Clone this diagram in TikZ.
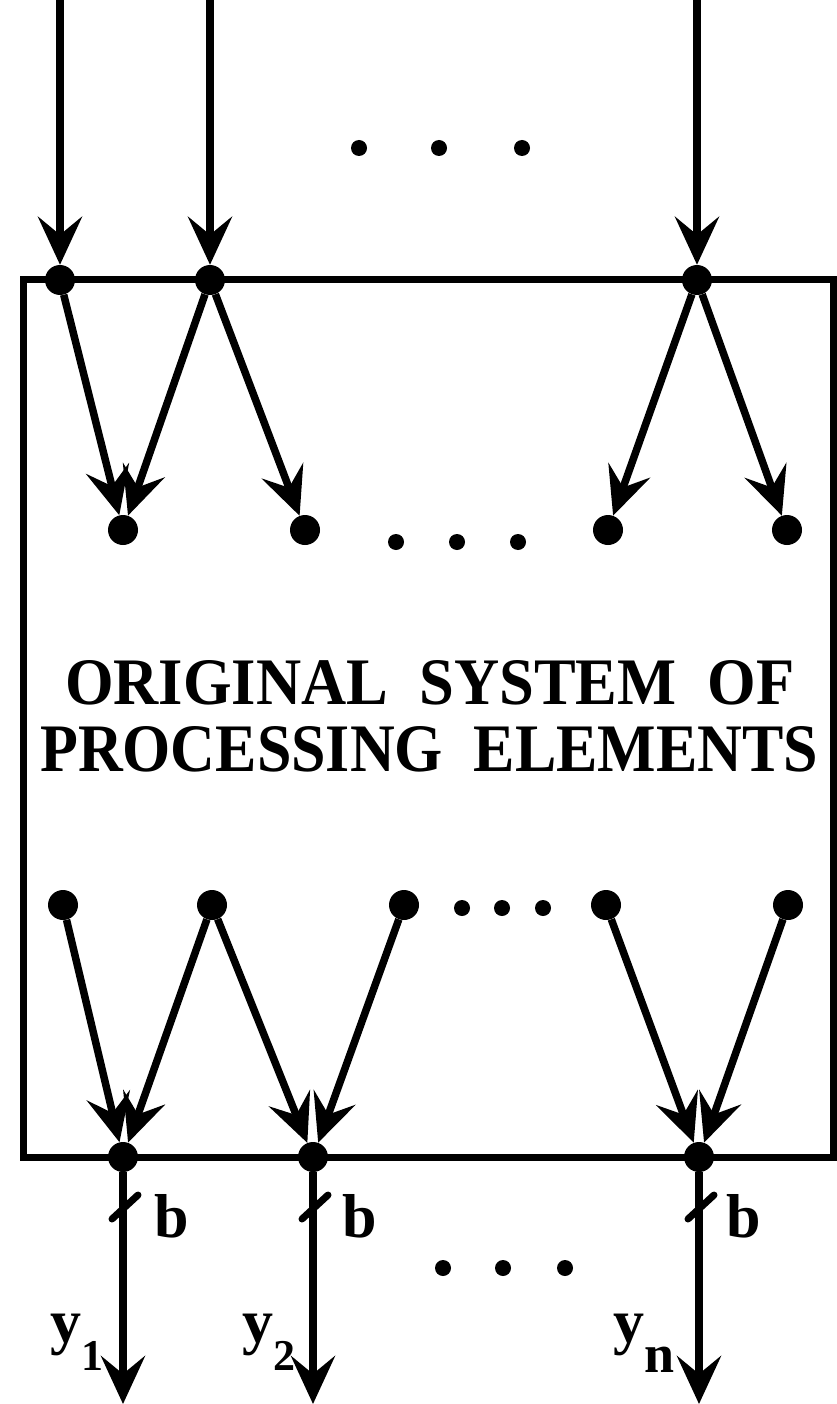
\documentclass[tikz,border=0pt]{standalone}
\usepackage{fontspec}
\setmainfont{Liberation Serif}
\usetikzlibrary{arrows.meta}
\tikzset{
  dot/.style={circle,fill=black,inner sep=0pt,minimum size=30pt},
  sdot/.style={circle,fill=black,inner sep=0pt,minimum size=16pt},
  arr/.style={line width=7.5pt,-{Stealth[length=48pt,width=44pt,inset=18pt]}},
  boxline/.style={line width=7pt},
  slashmark/.style={line width=7pt,line cap=round},
  lbl/.style={inner sep=0pt,font=\fontsize{62}{62}\selectfont\bfseries},
}
\newcommand{\subdig}[1]{\raisebox{-28pt}{\fontsize{44}{44}\selectfont\bfseries #1}}
\begin{document}
\begin{tikzpicture}[x=1pt,y=-1pt]
\useasboundingbox (0,0) rectangle (836,1404);
% box
\draw[boxline] (23,280) rectangle (833,1157);
% top dots on box edge
\node[dot] (t1) at (60,280) {};
\node[dot] (t2) at (210,280) {};
\node[dot] (t3) at (697,280) {};
% inputs
\coordinate (i1) at (60,0);
\coordinate (i2) at (210,0);
\coordinate (i3) at (697,0);
\draw[arr] (i1) -- (t1);
\draw[arr] (i2) -- (t2);
\draw[arr] (i3) -- (t3);
% top ellipsis
\node[sdot] (e1) at (359,148) {};
\node[sdot] (e2) at (439,148) {};
\node[sdot] (e3) at (522,148) {};
% upper internal nodes
\node[dot] (u1) at (123,530) {};
\node[dot] (u2) at (305,530) {};
\node[dot] (u3) at (608,530) {};
\node[dot] (u4) at (787,530) {};
\node[sdot] (m1) at (396,542) {};
\node[sdot] (m2) at (457,542) {};
\node[sdot] (m3) at (518,542) {};
\draw[arr] (t1) -- (u1);
\draw[arr] (t2) -- (u1);
\draw[arr] (t2) -- (u2);
\draw[arr] (t3) -- (u3);
\draw[arr] (t3) -- (u4);
% text
\node[inner sep=0pt,anchor=base west] (l1) at (65,704) {\resizebox{729pt}{44pt}{\bfseries ORIGINAL\ \ SYSTEM\ \ OF}};
\node[inner sep=0pt,anchor=base west] (l2) at (40,771) {\resizebox{778pt}{45pt}{\bfseries PROCESSING\ \ ELEMENTS}};
% lower internal nodes
\node[dot] (w1) at (63,905) {};
\node[dot] (w2) at (212,905) {};
\node[dot] (w3) at (404,905) {};
\node[dot] (w4) at (606,905) {};
\node[dot] (w5) at (788,905) {};
\node[sdot] (n1) at (462,908) {};
\node[sdot] (n2) at (502,908) {};
\node[sdot] (n3) at (543,908) {};
% bottom dots on box edge
\node[dot] (b1) at (123,1157) {};
\node[dot] (b2) at (313,1157) {};
\node[dot] (b3) at (699,1157) {};
\draw[arr] (w1) -- (b1);
\draw[arr] (w2) -- (b1);
\draw[arr] (w2) -- (b2);
\draw[arr] (w3) -- (b2);
\draw[arr] (w4) -- (b3);
\draw[arr] (w5) -- (b3);
% outputs
\coordinate (o1) at (123,1404);
\coordinate (o2) at (313,1404);
\coordinate (o3) at (699,1404);
\draw[arr] (b1) -- (o1);
\draw[arr] (b2) -- (o2);
\draw[arr] (b3) -- (o3);
% bus width marks
\draw[slashmark] (112,1219) -- (138,1195);
\draw[slashmark] (302,1219) -- (328,1195);
\draw[slashmark] (688,1219) -- (714,1195);
\node[lbl,anchor=base west] (bl1) at (154,1237) {b};
\node[lbl,anchor=base west] (bl2) at (342,1237) {b};
\node[lbl,anchor=base west] (bl3) at (726,1237) {b};
% bottom ellipsis
\node[sdot] (f1) at (443,1268) {};
\node[sdot] (f2) at (503,1268) {};
\node[sdot] (f3) at (565,1268) {};
% output labels
\node[lbl,anchor=base west] (y1) at (50,1342) {y\subdig{1}};
\node[lbl,anchor=base west] (y2) at (242,1342) {y\subdig{2}};
\node[lbl,anchor=base west] (yn) at (613,1342) {y\raisebox{-30pt}{\fontsize{54}{54}\selectfont\bfseries n}};
\end{tikzpicture}
\end{document}
